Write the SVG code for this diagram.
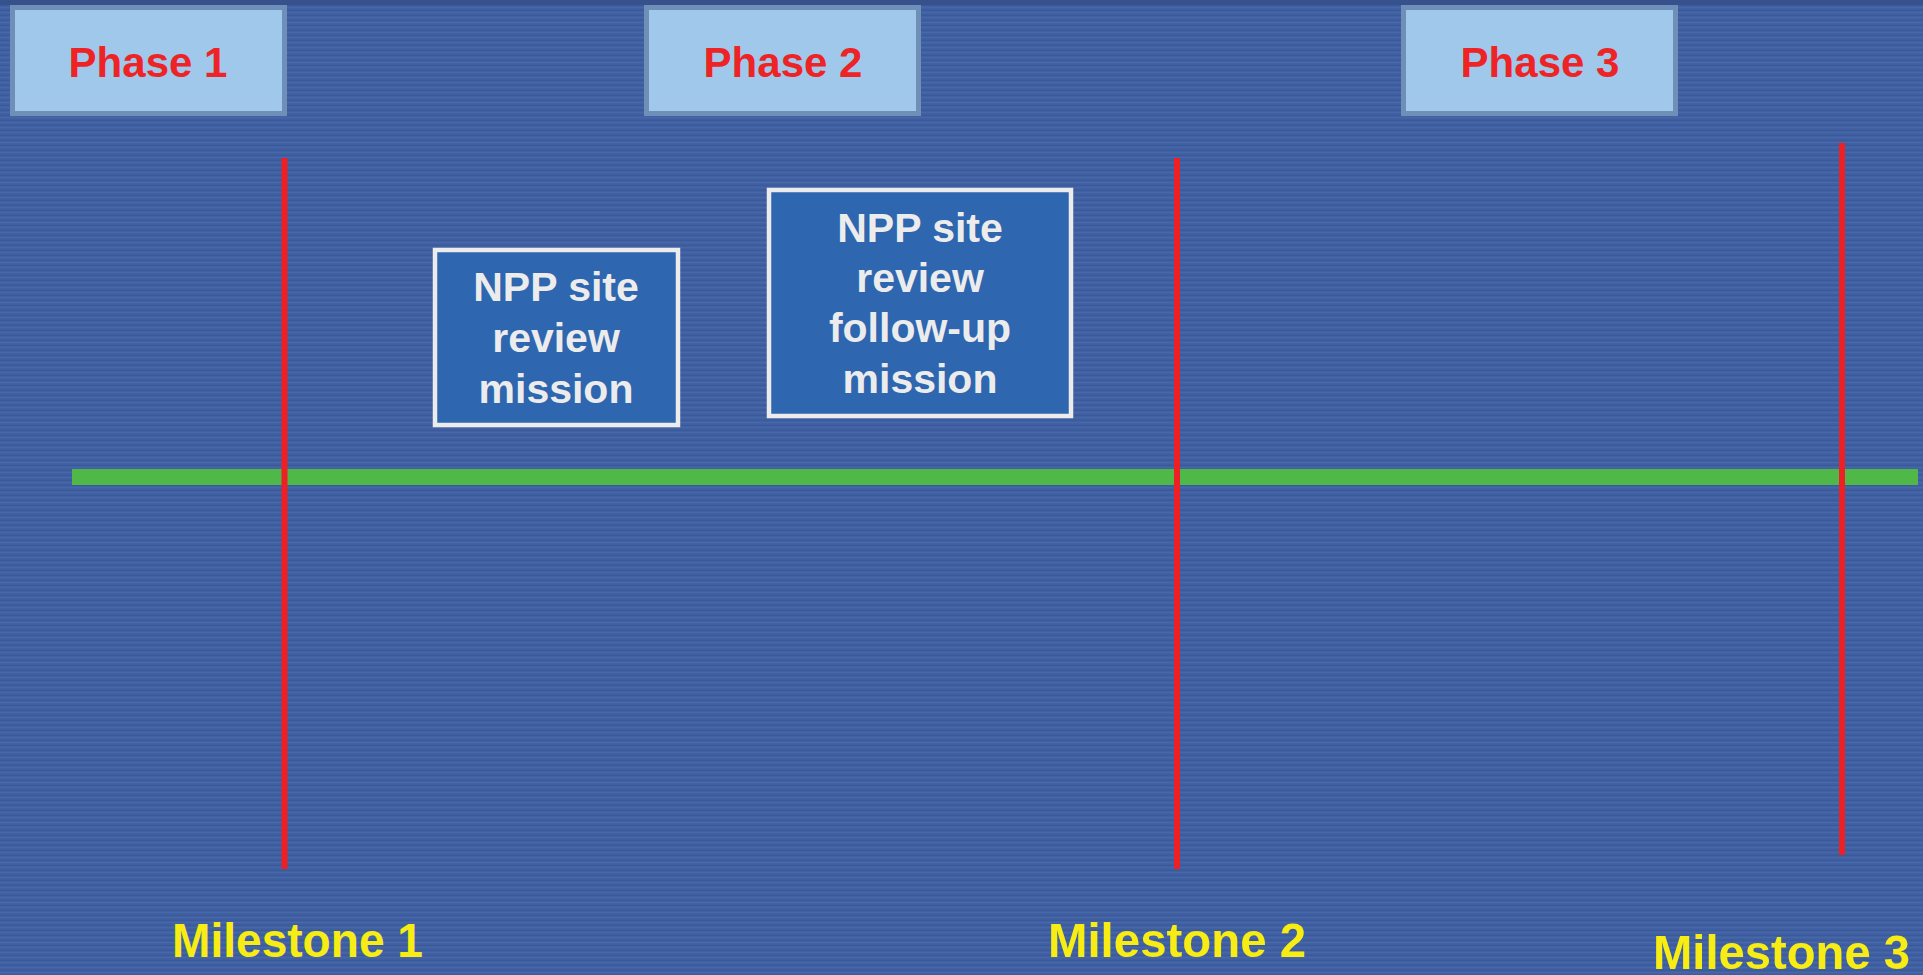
<svg xmlns="http://www.w3.org/2000/svg" width="1923" height="975" viewBox="0 0 1923 975">
  <defs>
    <!-- fine horizontal scan-line texture of the slide background -->
    <pattern id="scan" patternUnits="userSpaceOnUse" width="8" height="5">
      <rect width="8" height="5" fill="#4161a3"/>
      <rect y="0" width="8" height="1" fill="#3b5a9b"/>
      <rect y="2" width="8" height="1" fill="#4668aa"/>
      <rect y="4" width="8" height="1" fill="#3e5e9f"/>
    </pattern>
    <style>
      .phase rect { fill: #9fc8ea; stroke: #6f8fb8; stroke-width: 5; }
      .phase text { font-family: "Liberation Sans", Arial, sans-serif; font-weight: bold; font-size: 42px; fill: #ee2326; text-anchor: middle; }
      .mission rect { fill: #2e66b0; stroke: #ececec; stroke-width: 4.5; }
      .mission text { font-family: "Liberation Sans", Arial, sans-serif; font-weight: bold; font-size: 41px; fill: #ececec; text-anchor: middle; }
      .milestone { stroke: #ee2024; stroke-width: 6; }
      .timeline { stroke: #50b848; stroke-width: 16; }
      .ms-label { font-family: "Liberation Sans", Arial, sans-serif; font-weight: bold; font-size: 49px; fill: #f7ec13; }
    </style>
  </defs>

  <!-- background -->
  <rect width="1923" height="975" fill="url(#scan)"/>
  <rect width="1923" height="5" fill="#36518c"/>

  <!-- phase headers -->
  <g id="phase1" class="phase">
    <rect x="12.5" y="7.5" width="272" height="106"/>
    <text x="148" y="77">Phase 1</text>
  </g>
  <g id="phase2" class="phase">
    <rect x="646.5" y="7.5" width="272" height="106"/>
    <text x="783" y="77">Phase 2</text>
  </g>
  <g id="phase3" class="phase">
    <rect x="1403.5" y="7.5" width="272" height="106"/>
    <text x="1540" y="77">Phase 3</text>
  </g>

  <!-- timeline and milestone markers -->
  <g id="connectors">
    <line class="timeline" x1="72" y1="477" x2="1918" y2="477"/>
    <line class="milestone" x1="284.5" y1="158" x2="284.5" y2="869"/>
    <line class="milestone" x1="1177" y1="158" x2="1177" y2="869"/>
    <line class="milestone" x1="1842" y1="143" x2="1842" y2="855"/>
  </g>

  <!-- missions -->
  <g id="mission1" class="mission">
    <rect x="435" y="250" width="243" height="175"/>
    <text x="556" y="301">NPP site</text>
    <text x="556" y="352">review</text>
    <text x="556" y="403">mission</text>
  </g>
  <g id="mission2" class="mission">
    <rect x="769" y="190" width="302" height="226"/>
    <text x="920" y="242">NPP site</text>
    <text x="920" y="292">review</text>
    <text x="920" y="342">follow-up</text>
    <text x="920" y="393">mission</text>
  </g>

  <!-- milestone labels -->
  <g id="milestone1">
    <text class="ms-label" x="172" y="957" textLength="251" lengthAdjust="spacingAndGlyphs">Milestone 1</text>
  </g>
  <g id="milestone2">
    <text class="ms-label" x="1048" y="957" textLength="258" lengthAdjust="spacingAndGlyphs">Milestone 2</text>
  </g>
  <g id="milestone3">
    <text class="ms-label" x="1653" y="969" textLength="257" lengthAdjust="spacingAndGlyphs">Milestone 3</text>
  </g>
</svg>
